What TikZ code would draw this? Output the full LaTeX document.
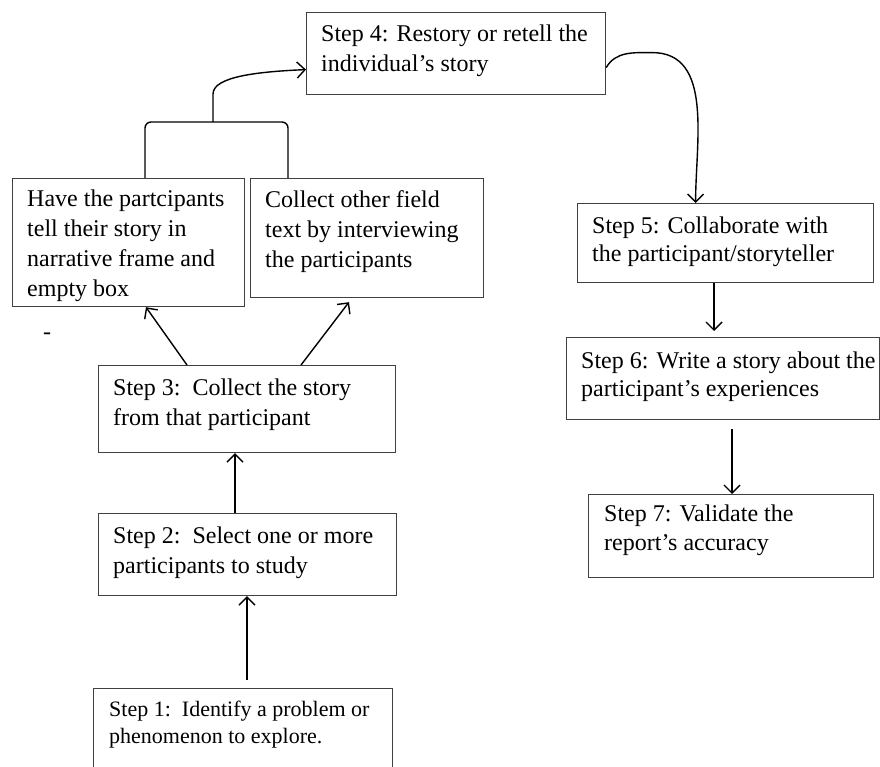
\documentclass[tikz,border=0pt]{standalone}
\usepackage{fontspec}
\setmainfont{Liberation Serif}
\usetikzlibrary{calc}
\usetikzlibrary{arrows.meta}

\begin{document}
\begin{tikzpicture}[x=1pt,y=-1pt]
            \tikzstyle{stepbox} = [draw=black!75, line width=1.2pt, inner sep=0pt, anchor=north west]
            \tikzstyle{steptext} = [inner sep=0pt, anchor=north west, align=left, font=\fontsize{24}{30}\selectfont]
            \tikzstyle{arr} = [line width=1.4pt, -{Straight Barb[length=8pt,width=16pt,line width=1.4pt]}]
            \useasboundingbox (0,0) rectangle (880,767);
            \clip (0,0) rectangle (880,767);

            \node (s4) [stepbox, minimum width=299pt, minimum height=82pt] at (306,12) {};
            \node (s4t) [steptext] at ($(s4.north west)+(15,13)$) {Step 4: Restory or retell the\\individual's story};

            \node (fa) [stepbox, minimum width=232pt, minimum height=128pt] at (12,178) {};
            \node (fat) [steptext] at ($(fa.north west)+(15,12)$) {Have the partcipants\\tell their story in\\narrative frame and\\empty box};

            \node (fb) [stepbox, minimum width=233pt, minimum height=119pt] at (250,178) {};
            \node (fbt) [steptext] at ($(fb.north west)+(15,12)$) {Collect other field\\text by interviewing\\the participants};

            \node (s3) [stepbox, minimum width=297pt, minimum height=87pt] at (98,365) {};
            \node (s3t) [steptext] at ($(s3.north west)+(15,14)$) {Step 3:\ \ Collect the story\\from that participant};

            \node (s2) [stepbox, minimum width=298pt, minimum height=82pt] at (98,513) {};
            \node (s2t) [steptext] at ($(s2.north west)+(15,14)$) {Step 2:\ \ Select one or more\\participants to study};

            \node (s1) [stepbox, minimum width=299pt, minimum height=110pt] at (93,688) {};
            \node (s1t) [steptext, font=\fontsize{22}{27}\selectfont] at ($(s1.north west)+(16,13)$) {Step 1:\ \ Identify a problem or\\phenomenon to explore.};

            \node (s5) [stepbox, minimum width=296pt, minimum height=79pt] at (577,203) {};
            \node (s5t) [steptext, font=\fontsize{24}{28}\selectfont] at ($(s5.north west)+(15,14)$) {Step 5: Collaborate with\\the participant/storyteller};

            \node (s6) [stepbox, minimum width=313pt, minimum height=82pt] at (566,337) {};
            \node (s6t) [steptext, font=\fontsize{24}{28}\selectfont] at ($(s6.north west)+(15,15)$) {Step 6: Write a story about the\\participant's experiences};

            \node (s7) [stepbox, minimum width=285pt, minimum height=83pt] at (588,494) {};
            \node (s7t) [steptext, font=\fontsize{24}{29}\selectfont] at ($(s7.north west)+(16,11)$) {Step 7: Validate the\\report's accuracy};

            \node (dash) [font=\fontsize{24}{30}\selectfont] at (47,336) {-};

            % upward flow
            \draw [arr, shorten <=8pt] ([xshift=154pt]s1.north west) -- ([xshift=149pt]s2.south west);
            \draw [arr] ([xshift=137pt]s2.north west) -- ([xshift=137pt]s3.south west);
            \draw [arr] ([xshift=89pt]s3.north west) -- ([xshift=134pt]fa.south west);
            \draw [arr, shorten >=5pt] ([xshift=203pt]s3.north west) -- ([xshift=102pt]fb.south west);

            % join the two field text boxes
            \coordinate (j) at (213,122);
            \draw [line width=1.4pt, rounded corners=6pt] ([xshift=133pt]fa.north west) |- (j) -| ([xshift=38pt]fb.north west);
            \draw [arr] (j) -- ++(0,-28) .. controls +(0,-18) and +(-45,2) .. ([yshift=-16pt]s4.west);

            % right column
            \draw [arr] ([yshift=-14pt]s4.east) to[out=60,in=180] ++(46,-15) to[out=0,in=90] ([xshift=-30pt]s5.north);
            \draw [arr, shorten >=6pt] ([xshift=137pt]s5.south west) -- ([xshift=148pt]s6.north west);
            \draw [arr, shorten <=9pt] ([xshift=166pt]s6.south west) -- ([xshift=144pt]s7.north west);
\end{tikzpicture}
\end{document}
